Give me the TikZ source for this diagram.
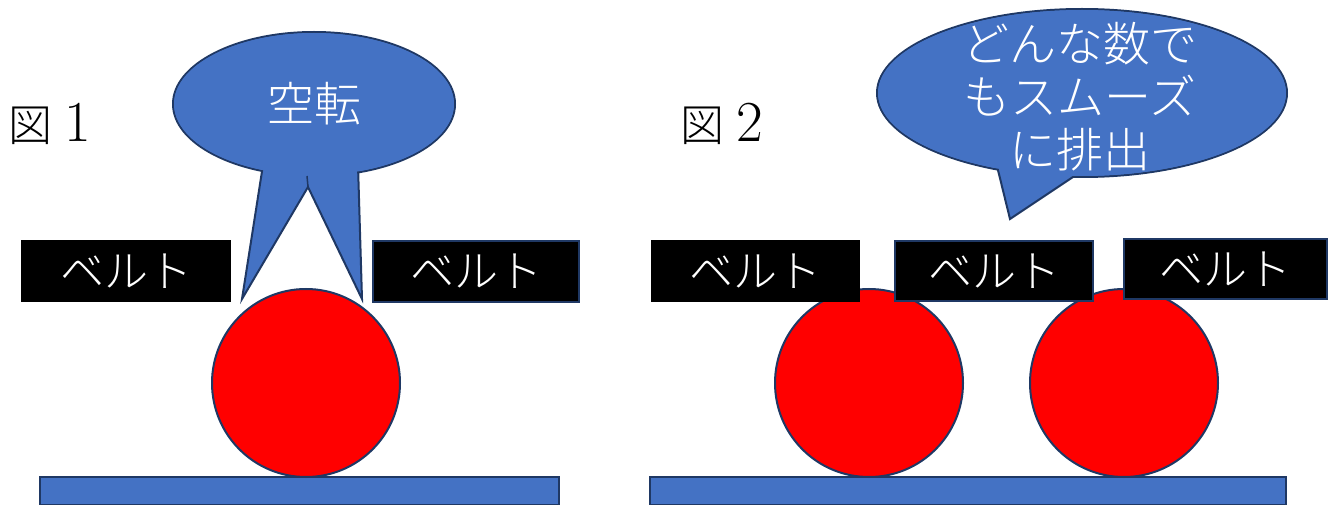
\documentclass[tikz,border=0pt]{standalone}
\usepackage{fontspec}
\newfontfamily\cjk{Noto Sans CJK JP}[UprightFont={* Light}]
\usetikzlibrary{shapes.geometric}
\definecolor{obl}{HTML}{4472C4}
\definecolor{navy}{HTML}{1F3864}
\tikzset{
  belt/.style={fill=black, text=white, inner sep=0pt, font=\cjk\fontsize{44}{44}\selectfont},
  beltb/.style={belt, draw=navy, line width=2pt},
  ball/.style={circle, fill=red, draw=navy, line width=2pt, minimum size=188pt, inner sep=0pt},
  bar/.style={rectangle, fill=obl, draw=navy, line width=1.5pt, inner sep=0pt, minimum height=28pt},
  bubble/.style={ellipse, fill=obl, draw=navy, line width=2pt, inner sep=0pt},
  tail/.style={fill=obl, draw=navy, line width=2pt, line join=miter},
  cover/.style={ellipse, fill=obl, inner sep=0pt, text=white},
  figlbl/.style={anchor=west, inner sep=0pt, text=black}
}
\begin{document}
\begin{tikzpicture}[x=1pt,y=-1pt]
\useasboundingbox (0,0) rectangle (1334,505);
% labels
\node[figlbl] (f1) at (8,124) {{\cjk\fontsize{44}{44}\selectfont 図}\hspace{12pt}{\fontsize{58}{58}\selectfont 1}};
\node[figlbl] (f2) at (680,124) {{\cjk\fontsize{44}{44}\selectfont 図}\hspace{12pt}{\fontsize{58}{58}\selectfont 2}};
% figure 1
\node[bar, minimum width=519pt] (bar1) at (299.5,491) {};
\node[ball] (b1) at (306,383) {};
\node[belt, minimum width=210pt, minimum height=62pt] (l1) at (126,271) {ベルト};
\node[beltb, minimum width=206pt, minimum height=61pt] (r1) at (476,271.5) {ベルト};
\node[bubble, minimum width=282pt, minimum height=144pt] (e1) at (314,104) {};
\coordinate (t1a) at (263,165);
\coordinate (t1b) at (242,299);
\coordinate (t1c) at (308,187);
\coordinate (t1d) at (362,299);
\coordinate (t1e) at (358,165);
\draw[tail] (t1a) -- (t1b) -- (t1c) -- (t1d) -- (t1e);
\draw[navy, line width=1.5pt] (307,176) -- (t1c);
\node[cover, minimum width=280pt, minimum height=142pt, font=\cjk\fontsize{47}{47}\selectfont] (c1) at (314,104) {空転};
% figure 2
\node[bar, minimum width=636pt] (bar2) at (968,491) {};
\node[ball] (b2) at (869,383) {};
\node[ball] (b3) at (1124,383) {};
\node[belt, minimum width=209pt, minimum height=62pt] (la) at (755.5,271) {ベルト};
\node[beltb, minimum width=198pt, minimum height=60pt] (lb) at (994,271) {ベルト};
\node[beltb, minimum width=203pt, minimum height=60pt] (lc) at (1225.5,269) {ベルト};
\node[bubble, minimum width=410pt, minimum height=168pt] (e2) at (1082,93) {};
\coordinate (t2a) at (995.5,160);
\coordinate (t2b) at (1010,219);
\coordinate (t2c) at (1083.5,170);
\draw[tail] (t2a) -- (t2b) -- (t2c);
\node[cover, minimum width=408pt, minimum height=166pt] (c2) at (1082,93) {};
\node[text=white, align=center, inner sep=0pt, font=\cjk\fontsize{47}{53}\selectfont] (txt2) at (1080,97) {どんな数で\\もスムーズ\\に排出};
\end{tikzpicture}
\end{document}
